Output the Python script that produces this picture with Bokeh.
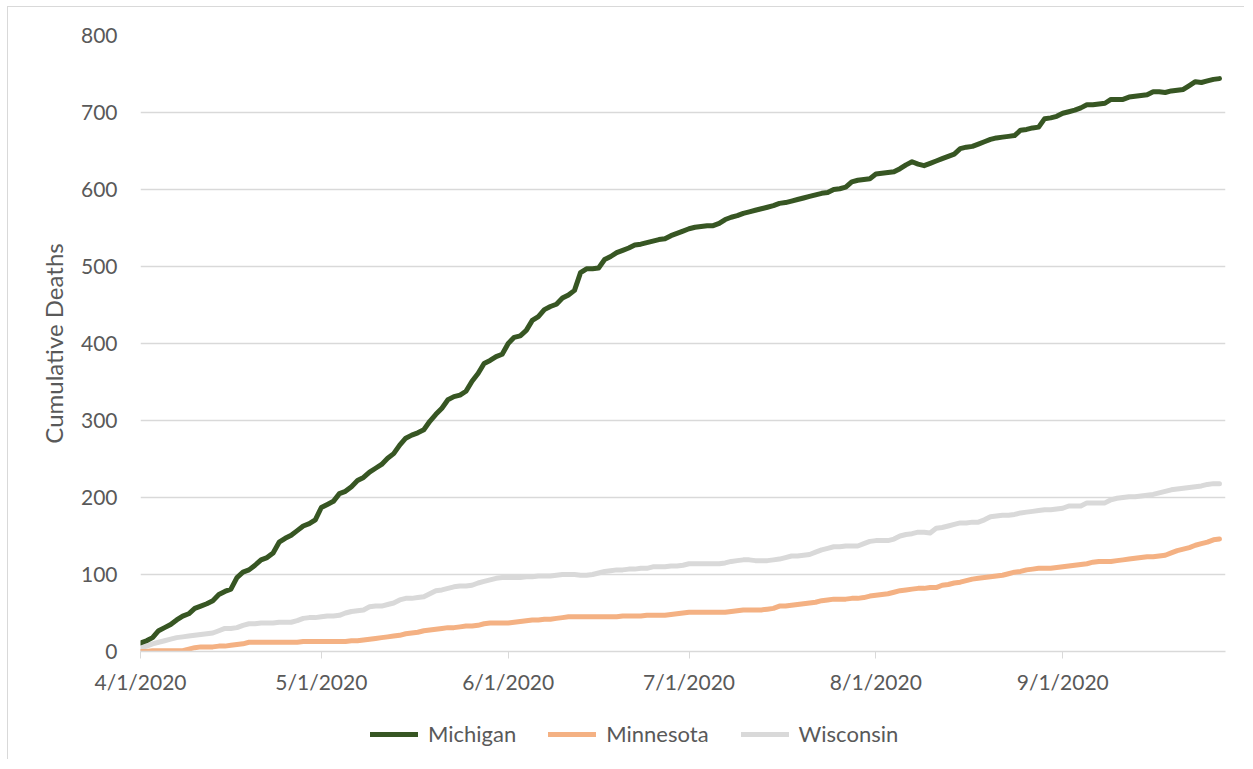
import pandas as pd
from bokeh.plotting import figure
from bokeh.layouts import column
from bokeh.models import (FixedTicker, DatetimeTickFormatter, Legend, LegendItem,
                          Range1d, SingleIntervalTicker, ColumnDataSource)
from bokeh.embed import file_html
from bokeh.resources import INLINE

start_date = "2020-04-01"
end_date = "2020-09-28"
tick_dates = ["2020-04-01", "2020-05-01", "2020-06-01", "2020-07-01", "2020-08-01", "2020-09-01"]
series_names = ["Michigan", "Minnesota", "Wisconsin"]
series_colors = ["#375623", "#F4B183", "#D9D9D9"]

michigan = [11, 14, 18, 27, 31, 35, 41, 46, 49, 56, 59, 62, 66, 74, 78, 81, 96, 103, 106, 112,
            119, 122, 128, 142, 147, 151, 157, 163, 166, 171, 187, 191, 195, 205, 208, 214, 222, 226, 233, 238,
            243, 251, 257, 268, 277, 281, 284, 288, 299, 308, 316, 327, 331, 333, 338, 351, 361, 374, 378, 383,
            386, 400, 408, 410, 417, 430, 435, 444, 448, 451, 459, 463, 469, 492, 497, 497, 498, 509, 513, 518,
            521, 524, 528, 529, 531, 533, 535, 536, 540, 543, 546, 549, 551, 552, 553, 553, 556, 561, 564, 566,
            569, 571, 573, 575, 577, 579, 582, 583, 585, 587, 589, 591, 593, 595, 596, 600, 601, 603, 610, 612,
            613, 614, 620, 621, 622, 623, 627, 632, 636, 633, 631, 634, 637, 640, 643, 646, 653, 655, 656, 659,
            662, 665, 667, 668, 669, 670, 677, 678, 680, 681, 692, 693, 695, 699, 701, 703, 706, 710, 710, 711,
            712, 717, 717, 717, 720, 721, 722, 723, 727, 727, 726, 728, 729, 730, 735, 740, 739, 741, 743, 744]

minnesota = [0, 0, 1, 1, 1, 1, 1, 1, 3, 5, 6, 6, 6, 7, 7, 8, 9, 10, 12, 12,
             12, 12, 12, 12, 12, 12, 12, 13, 13, 13, 13, 13, 13, 13, 13, 14, 14, 15, 16, 17,
             18, 19, 20, 21, 23, 24, 25, 27, 28, 29, 30, 31, 31, 32, 33, 33, 34, 36, 37, 37,
             37, 37, 38, 39, 40, 41, 41, 42, 42, 43, 44, 45, 45, 45, 45, 45, 45, 45, 45, 45,
             46, 46, 46, 46, 47, 47, 47, 47, 48, 49, 50, 51, 51, 51, 51, 51, 51, 51, 52, 53,
             54, 54, 54, 54, 55, 56, 59, 59, 60, 61, 62, 63, 64, 66, 67, 68, 68, 68, 69, 69,
             70, 72, 73, 74, 75, 77, 79, 80, 81, 82, 82, 83, 83, 86, 87, 89, 90, 92, 94, 95,
             96, 97, 98, 99, 101, 103, 104, 106, 107, 108, 108, 108, 109, 110, 111, 112, 113, 114, 116, 117,
             117, 117, 118, 119, 120, 121, 122, 123, 123, 124, 125, 128, 131, 133, 135, 138, 140, 142, 145, 146]

wisconsin = [4, 7, 10, 12, 14, 16, 18, 19, 20, 21, 22, 23, 24, 27, 30, 30, 31, 34, 36, 36,
             37, 37, 37, 38, 38, 38, 40, 43, 44, 44, 45, 46, 46, 47, 50, 52, 53, 54, 58, 59,
             59, 61, 63, 67, 69, 69, 70, 71, 75, 79, 80, 82, 84, 85, 85, 86, 89, 91, 93, 95,
             96, 96, 96, 96, 97, 97, 98, 98, 98, 99, 100, 100, 100, 99, 99, 100, 102, 104, 105, 106,
             106, 107, 107, 108, 108, 110, 110, 110, 111, 111, 112, 114, 114, 114, 114, 114, 114, 115, 117, 118,
             119, 119, 118, 118, 118, 119, 120, 122, 124, 124, 125, 126, 129, 132, 134, 136, 136, 137, 137, 137,
             140, 143, 144, 144, 144, 146, 150, 152, 153, 155, 155, 154, 160, 161, 163, 165, 167, 167, 168, 168,
             171, 175, 176, 177, 177, 178, 180, 181, 182, 183, 184, 184, 185, 186, 189, 189, 189, 193, 193, 193,
             193, 197, 199, 200, 201, 201, 202, 203, 204, 206, 208, 210, 211, 212, 213, 214, 215, 217, 218, 218]

dates = pd.date_range(start_date, periods=len(michigan), freq="D")
src = ColumnDataSource(data=dict(date=dates, mi=michigan, mn=minnesota, wi=wisconsin))
cols = ["mi", "mn", "wi"]

FONT = "Lato"
TXT = "#595959"
GRID = "#d9d9d9"
LW = 5

# ---------- main chart ----------
p = figure(width=1237, height=700, x_axis_type="datetime",
           output_backend="svg", toolbar_location=None,
           min_border_left=132, min_border_right=20, min_border_top=28, min_border_bottom=56)
p.margin = (6, 0, 0, 7)
p.styles = {"border-left": "1px solid #d9d9d9", "border-top": "1px solid #d9d9d9"}

p.x_range = Range1d(pd.Timestamp(start_date), pd.Timestamp(end_date))
p.y_range = Range1d(0, 800)
p.outline_line_color = None

for c, col in list(zip(cols, series_colors))[::-1]:
    p.line("date", c, source=src, line_color=col, line_width=LW, line_join="round", line_cap="round")

tick_ms = [pd.Timestamp(d).value / 1e6 for d in tick_dates]
p.xaxis.ticker = FixedTicker(ticks=tick_ms)
p.xaxis.formatter = DatetimeTickFormatter(days="%-m/%-d/%Y", months="%-m/%-d/%Y", years="%-m/%-d/%Y")
p.xaxis.axis_line_color = GRID
p.xaxis.axis_line_width = 1.3
p.xaxis.major_tick_line_color = GRID
p.xaxis.major_tick_out = 7
p.xaxis.major_tick_in = 0
p.xaxis.minor_tick_line_color = None
p.xaxis.major_label_standoff = 10
p.xgrid.grid_line_color = None

p.yaxis.ticker = SingleIntervalTicker(interval=100)
p.yaxis.axis_line_color = None
p.yaxis.major_tick_line_color = None
p.yaxis.minor_tick_line_color = None
p.yaxis.major_label_standoff = 17
p.yaxis.axis_label = "Cumulative Deaths"
p.yaxis.axis_label_standoff = 10
p.ygrid.grid_line_color = GRID
p.ygrid.grid_line_width = 1.3

for ax in (p.xaxis[0], p.yaxis[0]):
    ax.major_label_text_font = FONT
    ax.major_label_text_font_size = "21px"
    ax.major_label_text_color = TXT
    ax.axis_label_text_font = FONT
    ax.axis_label_text_font_size = "24px"
    ax.axis_label_text_font_style = "normal"
    ax.axis_label_text_color = TXT

# ---------- legend strip (series drawn off-range, only their legend glyphs show) ----------
q = figure(width=1237, height=53, output_backend="svg", toolbar_location=None,
           x_axis_location=None, y_axis_location=None,
           min_border_left=0, min_border_right=0, min_border_top=0, min_border_bottom=0)
q.margin = (0, 0, 0, 7)
q.styles = {"border-left": "1px solid #d9d9d9"}
q.x_range = Range1d(0, 1)
q.y_range = Range1d(0, 1)
q.outline_line_color = None
q.grid.grid_line_color = None

items = []
for name, c, col in zip(series_names, cols, series_colors):
    r = q.line("date", c, source=src, line_color=col, line_width=LW, line_cap="round")
    items.append(LegendItem(label=name, renderers=[r]))

legend = Legend(items=items, location=(230, 12), orientation="horizontal",
                glyph_width=48, glyph_height=20, label_standoff=10, spacing=32,
                padding=0, margin=0, border_line_color=None, background_fill_alpha=0,
                label_text_font=FONT, label_text_font_size="22px", label_text_color=TXT)
q.add_layout(legend, "center")

layout = column(p, q, spacing=0)
open("out.html", "w").write(file_html(layout, INLINE))
